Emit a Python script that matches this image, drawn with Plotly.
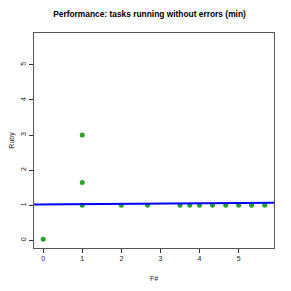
import plotly.graph_objects as go

title = "Performance: tasks running without errors (min)"
x_label = "F#"
y_label = "Ruby"
fsharp = [0, 1, 1, 1, 2, 2.67, 3.5, 3.75, 4, 4.33, 4.67, 5, 5.33, 5.67]
ruby = [0.03, 3.0, 1.65, 1.0, 1.0, 1.0, 1.0, 1.0, 1.0, 1.0, 1.0, 1.0, 1.0, 1.0]
fit_intercept = 1.022
fit_slope = 0.008
x_range = [-0.235, 5.905]
y_range = [-0.22, 5.91]

font = "Liberation Sans, Arial, sans-serif"

fig = go.Figure()
fig.add_trace(go.Scatter(
    x=fsharp, y=ruby, mode="markers",
    marker=dict(color="#2ca02c", size=5, line=dict(width=0)),
    showlegend=False, cliponaxis=False,
))
fig.add_trace(go.Scatter(
    x=x_range, y=[fit_intercept + fit_slope * v for v in x_range],
    mode="lines", line=dict(color="#0000ff", width=2),
    showlegend=False,
))

axis_common = dict(
    showgrid=False, zeroline=False, showline=True, mirror=True,
    linecolor="#555555", linewidth=1, ticks="outside", ticklen=4,
    tickcolor="#333333", tickfont=dict(family=font, size=7, color="#222222"),
    automargin=False,
)

fig.update_layout(
    width=283, height=283,
    margin=dict(l=26, r=17, t=25, b=43, autoexpand=False),
    paper_bgcolor="white", plot_bgcolor="white",
    title=dict(text="<b>" + title + "</b>", x=0.5, xanchor="center",
               y=1 - 6 / 283, yanchor="middle", automargin=False,
               font=dict(family=font, size=8.4, color="#000000")),
    xaxis=dict(range=x_range, tickvals=[0, 1, 2, 3, 4, 5],
               title=dict(text=x_label, font=dict(family=font, size=7, color="#222222"), standoff=14),
               **axis_common),
    yaxis=dict(range=y_range, tickvals=[0, 1, 2, 3, 4, 5], tickangle=-90,
               title=dict(text=y_label, font=dict(family=font, size=7, color="#222222"), standoff=11),
               **axis_common),
)

fig.write_html("out.html")
